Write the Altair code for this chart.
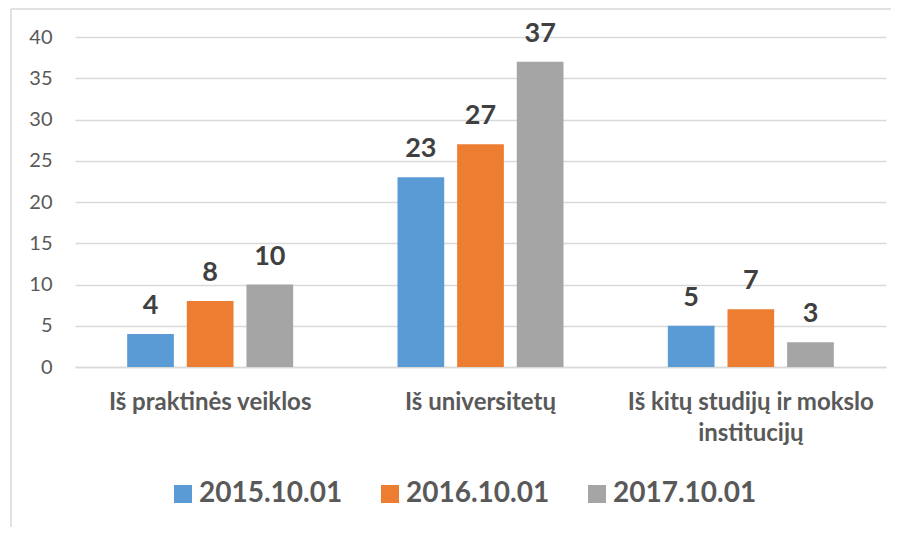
import altair as alt
import pandas as pd

categories = ["Iš praktinės veiklos", "Iš universitetų", "Iš kitų studijų ir mokslo institucijų"]
series = ["2015.10.01", "2016.10.01", "2017.10.01"]
values_2015 = [4, 23, 5]
values_2016 = [8, 27, 7]
values_2017 = [10, 37, 3]
colors = ["#5B9BD5", "#ED7D31", "#A5A5A5"]
y_ticks = [0, 5, 10, 15, 20, 25, 30, 35, 40]

rows = []
for s, vals in zip(series, [values_2015, values_2016, values_2017]):
    for c, v in zip(categories, vals):
        rows.append({"category": c, "series": s, "value": v})
df = pd.DataFrame(rows)

label_expr = (
    "datum.value == '" + categories[2] + "' ? ['Iš kitų studijų ir mokslo', 'institucijų'] : datum.value"
)

x_enc = alt.X(
    "category:N",
    sort=categories,
    scale=alt.Scale(paddingInner=0.386, paddingOuter=0.193),
    axis=alt.Axis(
        title=None, labelAngle=0, labelFont="Lato", labelFontWeight="bold",
        labelFontSize=24, labelColor="#595959", labelPadding=23, ticks=False,
        domainColor="#D9D9D9", domainWidth=1.5, labelLimit=0,
        labelExpr=label_expr, labelLineHeight=31,
    ),
)
y_enc = alt.Y(
    "value:Q",
    scale=alt.Scale(domain=[0, 40], nice=False),
    axis=alt.Axis(
        title=None, values=y_ticks, grid=True, gridColor="#D9D9D9", gridWidth=1.5,
        domain=False, ticks=False, labelFont="Lato", labelFontSize=20,
        labelColor="#595959", labelPadding=23,
    ),
)
xoff = alt.XOffset("series:N", sort=series, scale=alt.Scale(paddingInner=0.217, paddingOuter=0))

color_enc = alt.Color(
    "series:N",
    sort=series,
    scale=alt.Scale(domain=series, range=colors),
    legend=alt.Legend(
        title=None, orient="none", legendX=94, legendY=443, direction="horizontal",
        symbolType="square", symbolSize=324, symbolStrokeWidth=0, symbolOpacity=1,
        labelFont="Lato", labelFontWeight="bold", labelFontSize=28, labelColor="#595959",
        labelOffset=2, labelLimit=0, columnPadding=33,
    ),
)

base = alt.Chart(df)
bars = base.mark_bar().encode(x=x_enc, xOffset=xoff, y=y_enc, color=color_enc)
texts = base.mark_text(
    baseline="alphabetic", dy=-20, font="Lato", fontWeight="bold", fontSize=27, color="#404040"
).encode(x=x_enc, xOffset=xoff, y=y_enc, text="value:Q")

frame_data = alt.Data(values=[{"k": 1}])
top_rule = alt.Chart(frame_data).mark_rule(color="#D9D9D9", strokeWidth=1.5).encode(
    x=alt.value(-64), x2=alt.value(840), y=alt.value(-28)
)
left_rule = alt.Chart(frame_data).mark_rule(color="#D9D9D9", strokeWidth=1.5).encode(
    x=alt.value(-64), y=alt.value(-28), y2=alt.value(520)
)

chart = alt.layer(bars, texts, top_rule, left_rule).properties(
    width=811, height=330,
    padding={"left": 67, "top": 29, "right": 5, "bottom": 160},
    autosize="none",
    background="white",
).configure_view(stroke=None)

chart.save("out.html", embed_options={"renderer": "svg", "actions": False})
